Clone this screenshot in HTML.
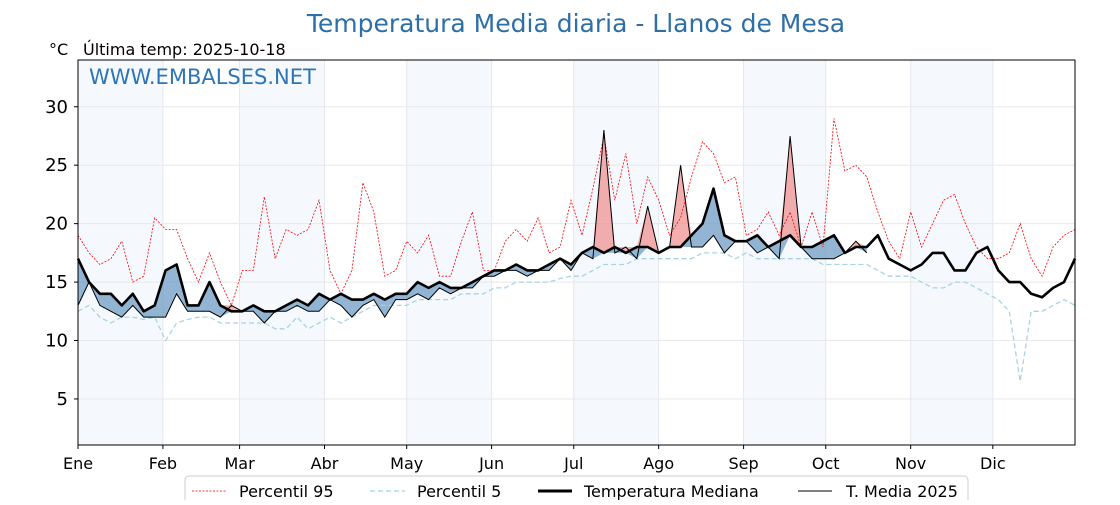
<!DOCTYPE html>
<html><head><meta charset="utf-8">
<style>
body{margin:0;background:#fff;font-family:"Liberation Sans","DejaVu Sans",sans-serif;}
svg text{font-family:"DejaVu Sans","Liberation Sans",sans-serif;}
</style></head>
<body>
<svg id="chart" width="1120" height="500" viewBox="0 0 1120 500" xmlns="http://www.w3.org/2000/svg">
<text x="576" y="32" text-anchor="middle" font-size="25" fill="#2e6fa7">Temperatura Media diaria - Llanos de Mesa</text>
<text x="49" y="55" font-size="16" fill="#000">°C</text>
<text x="83" y="55" font-size="16" fill="#000">Última temp: 2025-10-18</text>
<g id="bands"></g>
<g id="grid"></g>
<g id="series"></g>
<rect x="78" y="60" width="997" height="385" fill="none" stroke="#000" stroke-width="1"/>
<text x="89" y="84" font-size="21" fill="#2e75b6">WWW.EMBALSES.NET</text>
<g id="axes"></g>
<g>
<rect x="185" y="476" width="783" height="40" rx="4" fill="#fff" stroke="#ccc"/>
<line x1="192" y1="491" x2="226" y2="491" stroke="#e00" stroke-width="0.8" stroke-dasharray="2,1.5"/>
<text x="239" y="497" font-size="16">Percentil 95</text>
<line x1="370" y1="491" x2="405" y2="491" stroke="#a8d4e2" stroke-width="1.3" stroke-dasharray="5,3"/>
<text x="417" y="497" font-size="16">Percentil 5</text>
<line x1="538" y1="491" x2="572" y2="491" stroke="#000" stroke-width="3"/>
<text x="584" y="497" font-size="16">Temperatura Mediana</text>
<line x1="798" y1="491" x2="832" y2="491" stroke="#000" stroke-width="1"/>
<text x="846" y="497" font-size="16">T. Media 2025</text>
</g>
</svg>
<script>
const step = 4;
const monthLabels = ["Ene","Feb","Mar","Abr","May","Jun","Jul","Ago","Sep","Oct","Nov","Dic"];
const monthStarts = [0,31,59,90,120,151,181,212,243,273,304,334];
const yTicks = [5,10,15,20,25,30];
const p95 = [19,17.5,16.5,17,18.5,15,15.5,20.5,19.5,19.5,17,15,17.5,15,13,16,16,22.3,17,19.5,19,19.5,22,16,14,16,23.5,21,15.5,16,18.5,17.5,19,15.5,15.5,18.5,21,16,16,18.5,19.5,18.5,20.5,17.5,18,22,19,23,27.5,22,26,20,24,22,19,20.5,24,27,26,23.5,24,19,19.5,21,19,21,18,21,18,29,24.5,25,24,21,18.5,17,21,18,20,22,22.5,20,18,17,17,17.5,20,17,15.5,18,19,19.5];
const p5 = [12.5,13,12,11.5,12,12,11.8,12,10,11.5,11.8,12,12,11.5,11.5,11.5,11.5,11.5,11,11,12,11,11.5,12,11.5,12,12.5,13,13,13,13,13.5,13.5,13.5,13.5,14,14,14,14.5,14.5,15,15,15,15,15.3,15.5,15.5,16,16.5,16.5,16.5,17,17,17,17,17,17,17.5,17.5,17.5,17,17.5,17,17,17,17,17,17,16.5,16.5,16.5,16.5,16.5,16,15.5,15.5,15.5,15,14.5,14.5,15,15,14.5,14,13.5,12.5,6.5,12.5,12.5,13,13.5,13];
const median = [17,15,14,14,13,14,12.5,13,16,16.5,13,13,15,13,12.5,12.5,13,12.5,12.5,13,13.5,13,14,13.5,14,13.5,13.5,14,13.5,14,14,15,14.5,15,14.5,14.5,15,15.5,16,16,16.5,16,16,16.5,17,16.5,17.5,18,17.5,18,17.5,18,18,17.5,18,18,19,20,23,19,18.5,18.5,19,18,18.5,19,18,18,18.5,19,17.5,18,18,19,17,16.5,16,16.5,17.5,17.5,16,16,17.5,18,16,15,15,14,13.7,14.5,15,17];
const t2025 = [13,15,13,12.5,12,13,12,12,12,14,12.5,12.5,12.5,12,13,12.5,12.5,11.5,12.5,12.5,13,12.5,12.5,13.5,13,12,13,13.5,12,13.5,13.5,14,13.5,14.5,14,14.5,14.5,15.5,15.5,16,16,15.5,16,16,17,16,17.5,17,28,17.5,18,17,21.5,17.5,18,25,18,18,19,17.5,18.5,18.5,17.5,18,17,27.5,18,17,17,17,17.5,18.5,17.5];

const NS="http://www.w3.org/2000/svg";
const X0=78,X1=1075,Y0=60,Y1=445,DMAX=364,VMIN=1.06,VMAX=34.0;
function xs(d){return X0+d/DMAX*(X1-X0);}
function ys(v){return Y1-(v-VMIN)/(VMAX-VMIN)*(Y1-Y0);}
function mk(tag,attrs,parent){const e=document.createElementNS(NS,tag);for(const k in attrs)e.setAttribute(k,attrs[k]);parent.appendChild(e);return e;}
const bands=document.getElementById('bands'),grid=document.getElementById('grid'),ser=document.getElementById('series'),axes=document.getElementById('axes');
for(let m=0;m<12;m+=2){
  const end=m+1<12?monthStarts[m+1]:DMAX;
  const r=mk('rect',{x:xs(monthStarts[m]),y:Y0,width:xs(end)-xs(monthStarts[m]),height:Y1-Y0,fill:'#f5f9fd'},bands);
  
  
}
yTicks.forEach(v=>{
  const l=mk('line',{x1:X0,x2:X1,y1:ys(v),y2:ys(v),stroke:'#e8e8e8','stroke-width':1},grid);
  
  
  const t=mk('text',{x:68,y:ys(v)+6,'text-anchor':'end','font-size':18},axes);
  t.textContent=v;
  
  
  const tk=mk('line',{x1:X0-4,x2:X0,y1:ys(v),y2:ys(v),stroke:'#000'},axes);
  
  
});
monthStarts.forEach((d,i)=>{
  const l=mk('line',{x1:xs(d),x2:xs(d),y1:Y0,y2:Y1,stroke:'#e3e8ee','stroke-width':1},grid);
  
  
  const t=mk('text',{x:xs(d),y:469,'text-anchor':'middle','font-size':16},axes);
  t.textContent=monthLabels[i];
  
  
  const tk=mk('line',{x1:xs(d),x2:xs(d),y1:Y1,y2:Y1+4,stroke:'#000'},axes);
  
  
});
function pts(arr){return arr.map((v,i)=>xs(i*step).toFixed(1)+','+ys(v).toFixed(1));}
const n=t2025.length;
const hi=[],lo=[],base=[];
for(let i=0;i<n;i++){hi.push(Math.max(t2025[i],median[i]));lo.push(Math.min(t2025[i],median[i]));base.push(median[i]);}
const baseRev=pts(base).reverse();
const red=mk('polygon',{points:pts(hi).concat(baseRev).join(' '),fill:'#f08c8c','fill-opacity':0.7},ser);


const blue=mk('polygon',{points:pts(lo).concat(baseRev).join(' '),fill:'#6f9cc4','fill-opacity':0.75},ser);


const lp95=mk('polyline',{points:pts(p95).join(' '),fill:'none',stroke:'#f00','stroke-width':0.8,'stroke-dasharray':'2,1.5'},ser);


const lp5=mk('polyline',{points:pts(p5).join(' '),fill:'none',stroke:'#a8d4e2','stroke-width':1.3,'stroke-dasharray':'5,3'},ser);


const lmed=mk('polyline',{points:pts(median).join(' '),fill:'none',stroke:'#000','stroke-width':2.6,'stroke-linejoin':'round'},ser);


const l25=mk('polyline',{points:pts(t2025).join(' '),fill:'none',stroke:'#000','stroke-width':1},ser);


</script>
</body></html>
